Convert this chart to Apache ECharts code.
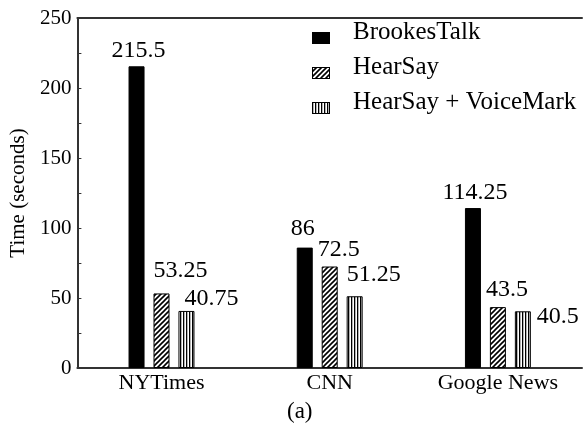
<!DOCTYPE html>
<html>
<head>
<meta charset="utf-8">
<script src="https://cdn.jsdelivr.net/npm/echarts@6/dist/echarts.min.js"></script>
<style>html,body{margin:0;padding:0;background:#fff}#c{width:584px;height:425px}</style>
</head>
<body>
<div id="c"></div>
<script>
var categories = ['NYTimes', 'CNN', 'Google News'];
var seriesNames = ['BrookesTalk', 'HearSay', 'HearSay + VoiceMark'];
var brookesTalk = [215.5, 86, 114.25];
var hearSay = [53.25, 72.5, 43.5];
var hearSayVoiceMark = [40.75, 51.25, 40.5];
var yTicks = [0, 50, 100, 150, 200, 250];

// label placement (style): [dx, gap above bar top to baseline]
var labelOffsets = [
  [[2, 9], [-2, 12], [2, 8]],
  [[19, 16], [9, 10], [9, 10]],
  [[25, 5], [19, 15], [35, -12]]
];

var FONT = 'Liberation Serif';

function makePattern(kind) {
  var c = document.createElement('canvas');
  var s = kind === 'diag' ? 5 : 3;
  c.width = s; c.height = s;
  var g = c.getContext('2d');
  g.fillStyle = '#fff';
  g.fillRect(0, 0, s, s);
  g.strokeStyle = '#000';
  if (kind === 'diag') {
    g.lineWidth = 1.6;
    g.beginPath();
    g.moveTo(-1, s + 1); g.lineTo(s + 1, -1);
    g.moveTo(-1, 1); g.lineTo(1, -1);
    g.moveTo(s - 1, s + 1); g.lineTo(s + 1, s - 1);
    g.stroke();
  } else {
    g.fillStyle = '#000';
    g.fillRect(0, 0, 1.3, s);
  }
  return c;
}

var fills = [
  '#000',
  { image: makePattern('diag'), repeat: 'repeat' },
  { image: makePattern('vert'), repeat: 'repeat' }
];

// legend icon: swatch drawn in lower part of a taller transparent image
function makeLegendIcon(fill) {
  var c = document.createElement('canvas');
  c.width = 18; c.height = 30;
  var g = c.getContext('2d');
  var y0 = 15, h = 12;
  if (typeof fill === 'string') {
    g.fillStyle = fill;
  } else {
    g.fillStyle = g.createPattern(fill.image, 'repeat');
  }
  g.fillRect(0, y0, 18, h);
  g.strokeStyle = '#000';
  g.lineWidth = 1;
  g.strokeRect(0.5, y0 + 0.5, 17, h - 1);
  return 'image://' + c.toDataURL();
}

var allData = [brookesTalk, hearSay, hearSayVoiceMark];

var FS = 24;
var series = allData.map(function (vals, si) {
  return {
    name: seriesNames[si],
    type: 'bar',
    barWidth: 16,
    barGap: '56%',
    itemStyle: { color: fills[si], borderColor: '#000', borderWidth: 1 },
    data: vals.map(function (v, ci) {
      var off = labelOffsets[si][ci];
      return {
        value: v,
        label: {
          show: true,
          position: 'top',
          distance: 0,
          offset: [off[0], -off[1] + 5],
          formatter: String(v),
          fontFamily: FONT,
          fontSize: FS,
          color: '#000'
        }
      };
    })
  };
});

var chart = echarts.init(document.getElementById('c'), null, { renderer: 'canvas' });
chart.setOption({
  animation: false,
  backgroundColor: '#fff',
  grid: { left: 74, right: 2, top: 18, bottom: 57, containLabel: false },
  legend: {
    orient: 'vertical',
    left: 312,
    top: 17,
    padding: 0,
    itemWidth: 18,
    itemHeight: 30,
    itemGap: 5,
    textStyle: { fontFamily: FONT, fontSize: 25, color: '#000', lineHeight: 25, padding: [0, 0, 0, 18] },
    data: seriesNames.map(function (n, i) { return { name: n, icon: makeLegendIcon(fills[i]) }; })
  },
  xAxis: [{
    type: 'category',
    data: categories,
    axisLine: { show: true, lineStyle: { color: '#333', width: 2 } },
    axisTick: { show: false },
    axisLabel: { fontFamily: FONT, fontSize: 22, color: '#000', margin: 4 }
  }, {
    type: 'category',
    position: 'top',
    data: categories,
    axisLine: { show: true, lineStyle: { color: '#333', width: 2 } },
    axisTick: { show: false },
    axisLabel: { show: false }
  }],
  yAxis: {
    type: 'value',
    min: 0,
    max: 250,
    interval: 50,
    name: 'Time (seconds)',
    nameLocation: 'middle',
    nameGap: 34,
    nameTextStyle: { fontFamily: FONT, fontSize: 21, color: '#000' },
    axisLine: { show: true, lineStyle: { color: '#333', width: 2 } },
    axisTick: { show: true, inside: true, length: 4, lineStyle: { color: '#333' } },
    minorTick: { show: true, splitNumber: 2, length: 4, lineStyle: { color: '#333' } },
    splitLine: { show: false },
    axisLabel: {
      fontFamily: FONT, fontSize: 21, color: '#000', margin: 6,
      formatter: function (v) { return yTicks.indexOf(v) >= 0 ? String(v) : ''; }
    }
  },
  graphic: [{
    type: 'text',
    left: 287,
    top: 400,
    style: { text: '(a)', font: '23px "Liberation Serif"', fill: '#000' }
  }],
  series: series
});
</script>
</body>
</html>
